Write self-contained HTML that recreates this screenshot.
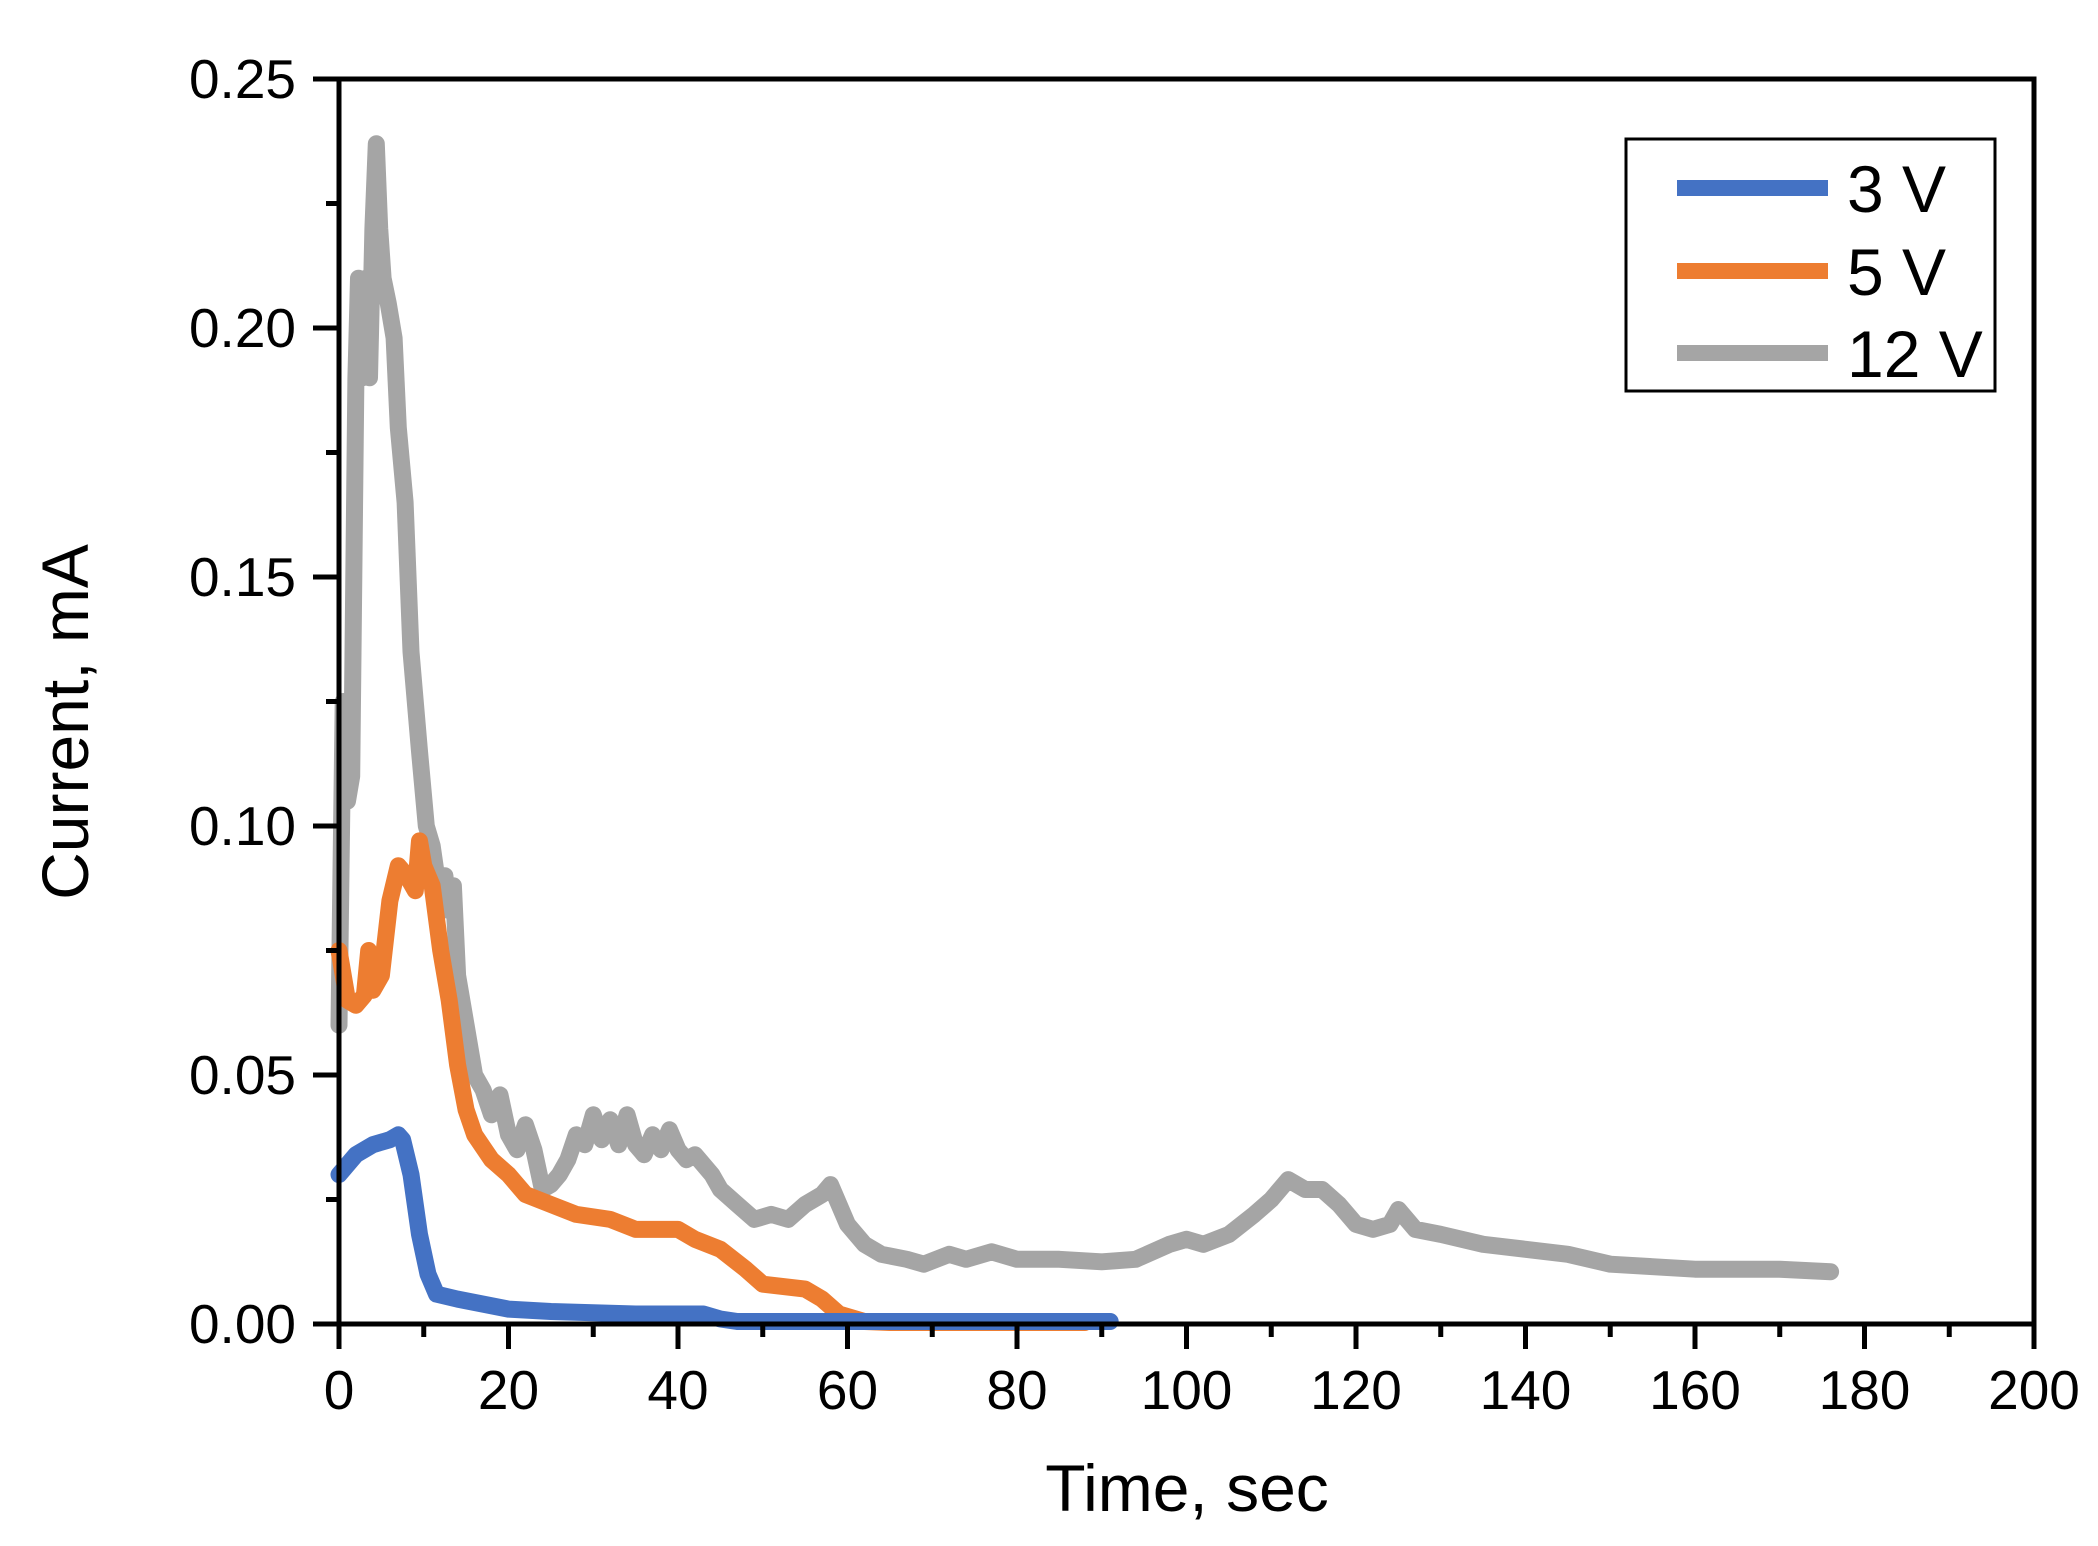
<!DOCTYPE html>
<html><head><meta charset="utf-8"><style>
html,body{margin:0;padding:0;background:#fff;}
svg{display:block;font-family:"Liberation Sans",Arial,sans-serif;}
</style></head><body>
<svg id="s" width="2098" height="1546" viewBox="0 0 2098 1546" xmlns="http://www.w3.org/2000/svg">
<rect width="2098" height="1546" fill="#fff"/>
<g id="series" fill="none" stroke-linejoin="round" stroke-linecap="round" stroke-width="17"></g>
<rect x="339" y="79" width="1695" height="1245" fill="none" stroke="#000" stroke-width="5"/>
<g id="ticks" stroke="#000" stroke-width="5"></g>
<g id="labels" font-size="55" fill="#000"></g>
<text x="1187" y="1511" font-size="66" text-anchor="middle">Time, sec</text>
<text transform="translate(88,722) rotate(-90)" font-size="66" text-anchor="middle">Current, mA</text>
<rect x="1626" y="139" width="369" height="252" fill="#fff" stroke="#000" stroke-width="3"/>
<line x1="1677" y1="188" x2="1828" y2="188" stroke="#4472c4" stroke-width="16"/>
<line x1="1677" y1="271" x2="1828" y2="271" stroke="#ed7d31" stroke-width="16"/>
<line x1="1677" y1="353" x2="1828" y2="353" stroke="#a5a5a5" stroke-width="16"/>
<text x="1847" y="212" font-size="66">3 V</text>
<text x="1847" y="295" font-size="66">5 V</text>
<text x="1847" y="377" font-size="66">12 V</text>
</svg>
<script>
var X=function(t){return 339+t*8.475;},Y=function(v){return 1324-v*4980;};
var ns="http://www.w3.org/2000/svg";
var gray=[[0,0.06],[0.5,0.125],[1,0.105],[1.5,0.11],[2,0.19],[2.3,0.21],[2.8,0.19],[3.2,0.21],[3.6,0.19],[4,0.22],[4.4,0.237],[4.8,0.22],[5.2,0.21],[5.8,0.205],[6.5,0.198],[7,0.18],[7.8,0.165],[8.5,0.135],[9.5,0.115],[10.3,0.1],[11,0.096],[11.5,0.09],[12.5,0.09],[13,0.083],[13.5,0.088],[14,0.07],[15,0.06],[16,0.05],[17,0.047],[18,0.042],[19,0.046],[20,0.038],[21,0.035],[22,0.04],[23,0.035],[24,0.027],[25,0.028],[26,0.03],[27,0.033],[28,0.038],[29,0.036],[30,0.042],[31,0.037],[32,0.041],[33,0.036],[34,0.042],[35,0.036],[36,0.034],[37,0.038],[38,0.035],[39,0.039],[40,0.035],[41,0.033],[42,0.034],[43,0.032],[44,0.03],[45,0.027],[47,0.024],[49,0.021],[51,0.022],[53,0.021],[55,0.024],[57,0.026],[58,0.028],[59,0.024],[60,0.02],[62,0.016],[64,0.014],[67,0.013],[69,0.012],[72,0.014],[74,0.013],[77,0.0145],[80,0.013],[85,0.013],[90,0.0125],[94,0.013],[98,0.016],[100,0.017],[102,0.016],[105,0.018],[108,0.022],[110,0.025],[112,0.029],[114,0.027],[116,0.027],[118,0.024],[120,0.02],[122,0.019],[124,0.02],[125,0.023],[127,0.019],[130,0.018],[135,0.016],[140,0.015],[145,0.014],[150,0.012],[155,0.0115],[160,0.011],[165,0.011],[170,0.011],[176,0.0105]];
var orange=[[0,0.075],[1,0.065],[2,0.064],[3,0.066],[3.5,0.075],[4,0.067],[5,0.07],[6,0.085],[7,0.092],[8,0.09],[9,0.087],[9.5,0.097],[10,0.092],[11,0.088],[12,0.075],[13,0.065],[14,0.052],[15,0.043],[16,0.038],[18,0.033],[20,0.03],[22,0.026],[25,0.024],[28,0.022],[32,0.021],[35,0.019],[38,0.019],[40,0.019],[42,0.017],[45,0.015],[48,0.011],[50,0.008],[55,0.007],[57,0.005],[59,0.002],[62,0.0005],[65,0.0003],[88,0.0003]];
var blue=[[0,0.03],[1,0.032],[2,0.034],[4,0.036],[6,0.037],[7,0.038],[7.5,0.037],[8.5,0.03],[9.5,0.018],[10.5,0.01],[11.5,0.006],[14,0.005],[17,0.004],[20,0.003],[25,0.0025],[35,0.002],[43,0.002],[45,0.001],[47,0.0005],[91,0.0005]];
var g=document.getElementById("series");
[[gray,"#a5a5a5"],[orange,"#ed7d31"],[blue,"#4472c4"]].forEach(function(s){
 var p=document.createElementNS(ns,"polyline");
 p.setAttribute("points",s[0].map(function(d){return X(d[0]).toFixed(1)+","+Y(d[1]).toFixed(1);}).join(" "));
 p.setAttribute("stroke",s[1]);g.appendChild(p);});
var tk=document.getElementById("ticks"),lb=document.getElementById("labels");
function line(x1,y1,x2,y2){var l=document.createElementNS(ns,"line");l.setAttribute("x1",x1);l.setAttribute("y1",y1);l.setAttribute("x2",x2);l.setAttribute("y2",y2);tk.appendChild(l);}
function txt(x,y,s,a){var t=document.createElementNS(ns,"text");t.setAttribute("x",x);t.setAttribute("y",y);t.setAttribute("text-anchor",a);t.textContent=s;lb.appendChild(t);}
for(var t=0;t<=200;t+=10){var x=X(t);if(t%20==0){line(x,1324,x,1349);txt(x,1409,String(t),"middle");}else line(x,1324,x,1337);}
for(var i=0;i<=10;i++){var v=i*0.025,y=Y(v);if(i%2==0){line(313,y,339,y);txt(296,y+19,v.toFixed(2),"end");}else line(326,y,339,y);}
</script>
</body></html>
